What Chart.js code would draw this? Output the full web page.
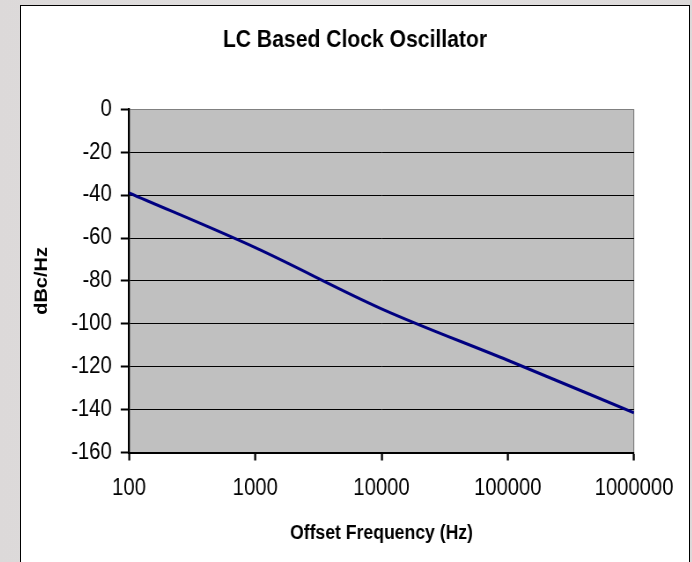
<!DOCTYPE html>
<html>
<head>
<meta charset="utf-8">
<script src="https://cdn.jsdelivr.net/npm/chart.js@4/dist/chart.umd.min.js"></script>
<style>
  html, body { margin: 0; padding: 0; }
  body { width: 692px; height: 562px; overflow: hidden; position: relative;
         background: linear-gradient(90deg, #dcd9d9 0%, #e2e0e0 50%, #dcd9d9 100%); }
  #frame { position: absolute; left: 20px; top: 5px; width: 670px; height: 600px;
           box-sizing: border-box; background: #fff; border: 1px solid #000; }
  #chart { position: absolute; left: 9px; top: 0; transform: scaleX(0.8804); transform-origin: 0 0; }
</style>
</head>
<body>
<div id="frame"></div>
<canvas id="chart" width="786" height="562"></canvas>
<script>
document.addEventListener('DOMContentLoaded', function() {
    // Data
    const freqHz = [100, 1000, 10000, 100000, 1000000];
    const phaseNoise = [-39, -64.5, -93, -117, -141.5];
    const xTicks = [100, 1000, 10000, 100000, 1000000];

    const fontFamily = '"Liberation Sans", Arial, Helvetica, sans-serif';

    // Latar abu-abu area plot
    const plotBackground = {
        id: 'plotBackground',
        beforeDraw(chart) {
            const { ctx, chartArea } = chart;
            ctx.save();
            ctx.fillStyle = '#c0c0c0';
            ctx.fillRect(chartArea.left, chartArea.top, chartArea.right - chartArea.left, chartArea.bottom - chartArea.top);
            ctx.restore();
        }
    };

    const ctx = document.getElementById('chart').getContext('2d');
    new Chart(ctx, {
        type: 'line',
        data: {
            datasets: [{
                label: 'LC Based Clock Oscillator',
                data: freqHz.map((f, i) => ({ x: f, y: phaseNoise[i] })),
                borderColor: '#000080',
                borderWidth: 3,
                pointRadius: 0,
                fill: false,
                cubicInterpolationMode: 'monotone'
            }]
        },
        options: {
            responsive: false,
            animation: false,
            devicePixelRatio: 1,
            layout: { padding: 0 },
            plugins: {
                legend: { display: false },
                tooltip: { enabled: false },
                title: {
                    display: true,
                    text: 'LC Based Clock Oscillator',
                    color: '#000',
                    font: { family: fontFamily, size: 24, weight: 'bold' },
                    padding: { top: 25.6, bottom: 54.9 }
                }
            },
            scales: {
                x: {
                    type: 'logarithmic',
                    min: 100,
                    max: 1000000,
                    afterBuildTicks(scale) {
                        scale.ticks = xTicks.map(v => ({ value: v }));
                    },
                    afterFit(scale) {
                        scale.height = 109.5;
                    },
                    ticks: {
                        autoSkip: false,
                        maxRotation: 0,
                        color: '#000',
                        padding: 14.2,
                        font: { family: fontFamily, size: 23 },
                        callback: v => String(v)
                    },
                    grid: {
                        color: c => (c.tick && c.tick.value === 1000000) ? '#808080' : 'rgba(0,0,0,0)',
                        lineWidth: 1.2,
                        tickColor: '#000',
                        tickWidth: 2.3,
                        tickLength: 8
                    },
                    border: { display: true, color: '#000', width: 2 },
                    title: {
                        display: true,
                        text: 'Offset Frequency (Hz)',
                        color: '#000',
                        font: { family: fontFamily, size: 20, weight: 'bold' },
                        padding: { top: 1.2, bottom: 17 }
                    }
                },
                y: {
                    min: -160,
                    max: 0,
                    afterFit(scale) {
                        scale.width = 136.3;
                    },
                    ticks: {
                        stepSize: 20,
                        color: '#000',
                        padding: 10.2,
                        font: { family: fontFamily, size: 23 }
                    },
                    grid: {
                        color: c => (c.tick && c.tick.value === 0) ? '#808080' : '#000',
                        lineWidth: 1,
                        tickColor: '#000',
                        tickWidth: 2,
                        tickLength: 9.4
                    },
                    border: { display: true, color: '#000', width: 2.3 },
                    title: {
                        display: true,
                        text: 'dBc/Hz',
                        color: '#000',
                        font: { family: fontFamily, size: 20, weight: 'bold' },
                        padding: { top: 25.5, bottom: 0 }
                    }
                },
                // ruang kosong di kanan area plot
                yRight: {
                    type: 'linear',
                    position: 'right',
                    display: true,
                    grid: { display: false, drawTicks: false },
                    border: { display: false },
                    ticks: { display: false },
                    afterFit(scale) {
                        scale.width = 76.1;
                    }
                }
            }
        },
        plugins: [plotBackground]
    });
});
</script>
</body>
</html>
